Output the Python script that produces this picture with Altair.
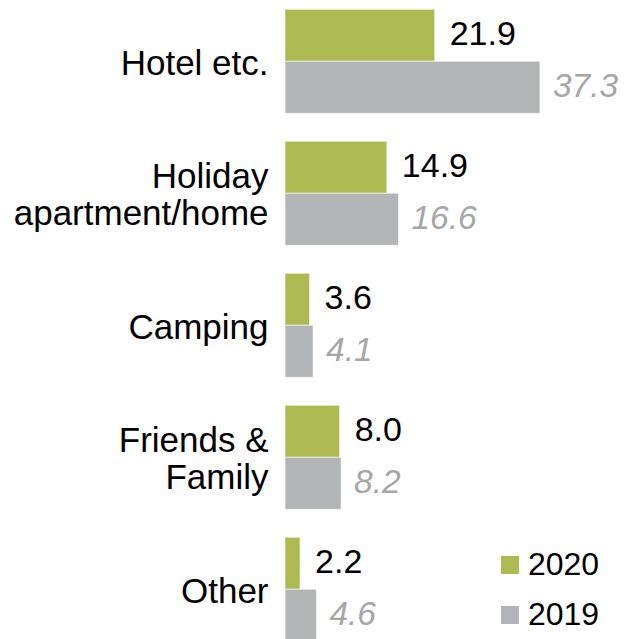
import altair as alt
import pandas as pd

categories = ["Hotel etc.", "Holiday\napartment/home", "Camping", "Friends &\nFamily", "Other"]
values_2020 = [21.9, 14.9, 3.6, 8.0, 2.2]
values_2019 = [37.3, 16.6, 4.1, 8.2, 4.6]
years = ["2020", "2019"]
colors = ["#adb951", "#b3b4b6"]

rows = []
for c, v in zip(categories, values_2020):
    rows.append({"cat": c, "year": "2020", "value": v})
for c, v in zip(categories, values_2019):
    rows.append({"cat": c, "year": "2019", "value": v})
df = pd.DataFrame(rows)

FONT = "Liberation Sans"

y_enc = alt.Y(
    "cat:N",
    sort=categories,
    scale=alt.Scale(paddingInner=0.212, paddingOuter=0.01),
    axis=alt.Axis(
        title=None, domain=False, ticks=False, labelPadding=17,
        labelFontSize=35, labelFont=FONT, labelColor="black",
        labelLimit=400, labelLineHeight=37, labelAlign="right",
        labelBaseline="middle",
        labelOffset={"condition": {"test": "indexof(datum.value, '\\n') >= 0", "value": -16}, "value": 3},
        labelExpr="split(datum.label, '\\n')",
    ),
)
yoff = alt.YOffset("year:N", sort=years, scale=alt.Scale(paddingInner=0, paddingOuter=0))
x_enc = alt.X("value:Q", scale=alt.Scale(domain=[0, 48.86]), axis=None)

bars = alt.Chart(df).mark_bar(stroke="white", strokeWidth=0.6).encode(
    y=y_enc,
    yOffset=yoff,
    x=x_enc,
    color=alt.Color(
        "year:N",
        scale=alt.Scale(domain=years, range=colors),
        legend=alt.Legend(
            title=None, orient="none", legendX=209, legendY=541,
            symbolType="square", symbolSize=324, symbolStrokeWidth=0,
            labelFontSize=32, labelFont=FONT, labelColor="black",
            rowPadding=18, symbolOffset=0, labelOffset=2, padding=0,
        ),
    ),
)

txt2020 = alt.Chart(df).transform_filter(alt.datum.year == "2020").mark_text(
    align="left", baseline="middle", dx=15, fontSize=34, font=FONT, color="black"
).encode(y=y_enc, yOffset=yoff, x=x_enc, text=alt.Text("value:Q", format=".1f"))

txt2019 = alt.Chart(df).transform_filter(alt.datum.year == "2019").mark_text(
    align="left", baseline="middle", dx=13, fontSize=33.5, font=FONT,
    fontStyle="italic", color="#a6a6a6"
).encode(y=y_enc, yOffset=yoff, x=x_enc, text=alt.Text("value:Q", format=".1f"))

chart = alt.layer(bars, txt2020, txt2019).properties(
    width=334, height=634.6,
    autosize=alt.AutoSizeParams(type="none"),
    padding={"left": 277, "top": 0, "right": 0, "bottom": 0},
).configure_view(stroke=None)

chart.save("out.html", embed_options={"renderer": "svg", "actions": False})
